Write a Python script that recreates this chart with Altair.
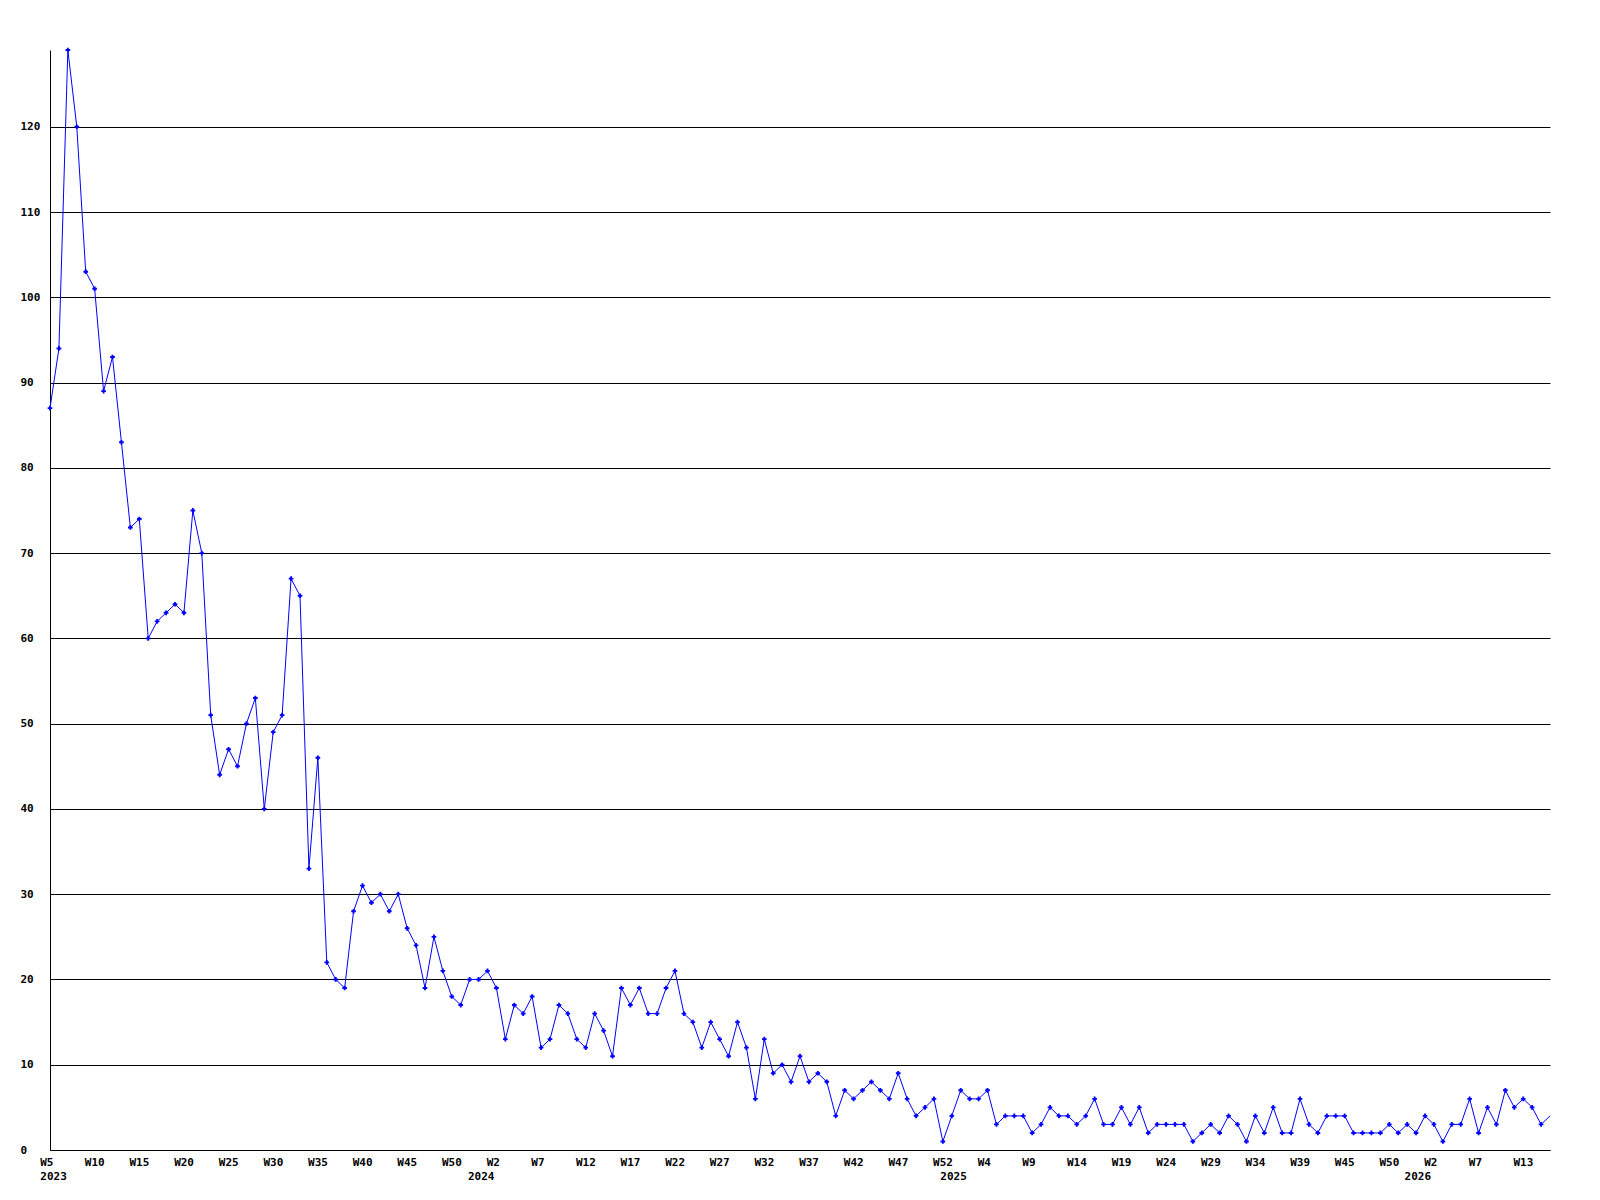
import altair as alt
import pandas as pd

# Weekly values, 2023 W5 .. 2026 W17
values = [
    87, 94, 129, 120, 103, 101, 89, 93, 83, 73,
    74, 60, 62, 63, 64, 63, 75, 70, 51, 44,
    47, 45, 50, 53, 40, 49, 51, 67, 65, 33,
    46, 22, 20, 19, 28, 31, 29, 30, 28, 30,
    26, 24, 19, 25, 21, 18, 17, 20, 20, 21,
    19, 13, 17, 16, 18, 12, 13, 17, 16, 13,
    12, 16, 14, 11, 19, 17, 19, 16, 16, 19,
    21, 16, 15, 12, 15, 13, 11, 15, 12, 6,
    13, 9, 10, 8, 11, 8, 9, 8, 4, 7,
    6, 7, 8, 7, 6, 9, 6, 4, 5, 6,
    1, 4, 7, 6, 6, 7, 3, 4, 4, 4,
    2, 3, 5, 4, 4, 3, 4, 6, 3, 3,
    5, 3, 5, 2, 3, 3, 3, 3, 1, 2,
    3, 2, 4, 3, 1, 4, 2, 5, 2, 2,
    6, 3, 2, 4, 4, 4, 2, 2, 2, 2,
    3, 2, 3, 2, 4, 3, 1, 3, 3, 6,
    2, 5, 3, 7, 5, 6, 5, 3, 4,
]

tick_labels = [
    "W5", "W10", "W15", "W20", "W25", "W30", "W35", "W40", "W45", "W50",
    "W2", "W7", "W12", "W17", "W22", "W27", "W32", "W37", "W42", "W47", "W52",
    "W4", "W9", "W14", "W19", "W24", "W29", "W34", "W39", "W45", "W50",
    "W2", "W7", "W13",
]
tick_step = 5

year_labels = ["2023", "2024", "2025", "2026"]
year_positions = [0.4, 48.3, 101.2, 153.2]

y_ticks = list(range(0, 130, 10))

FONT = "DejaVu Sans Mono"
W, H = 1500, 1100

df = pd.DataFrame({"i": list(range(len(values))), "v": values})
df_marks = df.iloc[:-1]
df_years = pd.DataFrame({"pos": year_positions, "label": year_labels})

n = len(values) - 1
xscale = alt.Scale(domain=[0, n], nice=False, zero=False, padding=0)
yscale = alt.Scale(domain=[0, max(values)], nice=False)

tick_values = [k * tick_step for k in range(len(tick_labels))]
label_array = "[" + ",".join("'" + t + "'" for t in tick_labels) + "]"

x_axis = alt.Axis(
    values=tick_values,
    labelExpr=label_array + f"[round(datum.value/{tick_step})]",
    title=None, grid=False, ticks=False, tickSize=0,
    domainColor="black", domainWidth=1,
    labelAlign="left", labelOffset=-10.3, labelBaseline="middle",
    labelPadding=12, labelOverlap=False, labelFlush=False, labelBound=False,
    labelFont=FONT, labelFontSize=11, labelFontWeight="bold", labelColor="black",
)
y_axis = alt.Axis(
    values=y_ticks, title=None, grid=True, gridColor="black", gridOpacity=1,
    gridWidth=1, ticks=False, tickSize=0, domainColor="black", domainWidth=1,
    labelAlign="left", labelPadding=30, labelBaseline="middle",
    labelOverlap=False, labelFlush=False,
    labelFont=FONT, labelFontSize=11, labelFontWeight="bold", labelColor="black",
)

line = alt.Chart(df).mark_line(color="#0000ff", strokeWidth=1).encode(
    x=alt.X("i:Q", scale=xscale, axis=x_axis),
    y=alt.Y("v:Q", scale=yscale, axis=y_axis),
)

pts = alt.Chart(df_marks).mark_point(
    shape="cross", filled=True, size=22, color="#0000ff", opacity=1
).encode(
    x=alt.X("i:Q", scale=xscale),
    y=alt.Y("v:Q", scale=yscale),
)

years = alt.Chart(df_years).mark_text(
    font=FONT, fontSize=11, fontWeight="bold", color="black",
    align="center", baseline="middle",
).encode(
    x=alt.X("pos:Q", scale=xscale),
    y=alt.value(H + 27),
    text="label:N",
)

chart = alt.layer(line, pts, years).properties(
    width=W, height=H,
    autosize=alt.AutoSizeParams(type="none"),
    padding={"left": 42, "top": 42, "right": 40, "bottom": 50},
    background="white",
).configure_view(stroke=None)

chart.save("out.html", embed_options={"renderer": "svg", "actions": False})
